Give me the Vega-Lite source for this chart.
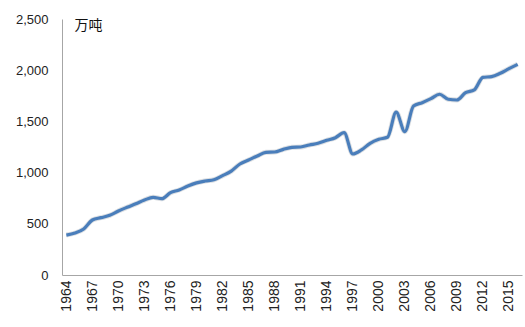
{
  "$schema": "https://vega.github.io/schema/vega-lite/v6.json",
  "width": 460,
  "height": 256,
  "autosize": {"type": "none"},
  "padding": {"left": 62, "top": 19, "right": 3, "bottom": 52},
  "background": "white",
  "config": {"view": {"stroke": null}, "font": "Liberation Sans"},
  "data": {"values": [
    {"year": 1964, "v": 390}, {"year": 1965, "v": 410}, {"year": 1966, "v": 450},
    {"year": 1967, "v": 537}, {"year": 1968, "v": 560}, {"year": 1969, "v": 583},
    {"year": 1970, "v": 625}, {"year": 1971, "v": 661}, {"year": 1972, "v": 695},
    {"year": 1973, "v": 732}, {"year": 1974, "v": 759}, {"year": 1975, "v": 745},
    {"year": 1976, "v": 804}, {"year": 1977, "v": 830}, {"year": 1978, "v": 869},
    {"year": 1979, "v": 900}, {"year": 1980, "v": 918}, {"year": 1981, "v": 930},
    {"year": 1982, "v": 970}, {"year": 1983, "v": 1015}, {"year": 1984, "v": 1084},
    {"year": 1985, "v": 1123}, {"year": 1986, "v": 1162}, {"year": 1987, "v": 1198},
    {"year": 1988, "v": 1201}, {"year": 1989, "v": 1227}, {"year": 1990, "v": 1247},
    {"year": 1991, "v": 1250}, {"year": 1992, "v": 1270}, {"year": 1993, "v": 1286},
    {"year": 1994, "v": 1315}, {"year": 1995, "v": 1341}, {"year": 1996, "v": 1390},
    {"year": 1997, "v": 1182}, {"year": 1998, "v": 1221}, {"year": 1999, "v": 1286},
    {"year": 2000, "v": 1325}, {"year": 2001, "v": 1345}, {"year": 2002, "v": 1590},
    {"year": 2003, "v": 1400}, {"year": 2004, "v": 1650}, {"year": 2005, "v": 1683},
    {"year": 2006, "v": 1722}, {"year": 2007, "v": 1765}, {"year": 2008, "v": 1716},
    {"year": 2009, "v": 1709}, {"year": 2010, "v": 1780}, {"year": 2011, "v": 1807},
    {"year": 2012, "v": 1930}, {"year": 2013, "v": 1937}, {"year": 2014, "v": 1970},
    {"year": 2015, "v": 2015}, {"year": 2016, "v": 2057}
  ]},
  "encoding": {
    "x": {
      "field": "year", "type": "ordinal",
      "scale": {"type": "point", "padding": 0.5},
      "axis": {
        "title": null,
        "values": [1964, 1967, 1970, 1973, 1976, 1979, 1982, 1985, 1988, 1991, 1994, 1997, 2000, 2003, 2006, 2009, 2012, 2015],
        "labelAngle": -90, "labelFontSize": 14, "labelColor": "#222222",
        "labelPadding": 5, "ticks": false,
        "domainColor": "#a6a6a6", "domainWidth": 1, "grid": false
      }
    },
    "y": {
      "field": "v", "type": "quantitative",
      "scale": {"domain": [0, 2500], "nice": false},
      "axis": {
        "values": [0, 500, 1000, 1500, 2000, 2500],
        "format": ",.0f", "labelFontSize": 13, "labelColor": "#222222",
        "labelPadding": 14, "ticks": false, "grid": false,
        "domainColor": "#a6a6a6", "domainWidth": 1,
        "title": "万吨", "titleAngle": 0, "titleX": 12, "titleY": 6,
        "titleAlign": "left", "titleBaseline": "middle",
        "titleFont": "Noto Sans CJK SC", "titleFontSize": 14, "titleFontWeight": "normal", "titleColor": "#111111"
      }
    }
  },
  "layer": [
    {"mark": {"type": "line", "interpolate": "monotone", "stroke": "#9aa3ad", "strokeWidth": 5, "opacity": 0.35}},
    {"mark": {"type": "line", "interpolate": "monotone", "stroke": "#4a7ebb", "strokeWidth": 3.2}}
  ]
}
